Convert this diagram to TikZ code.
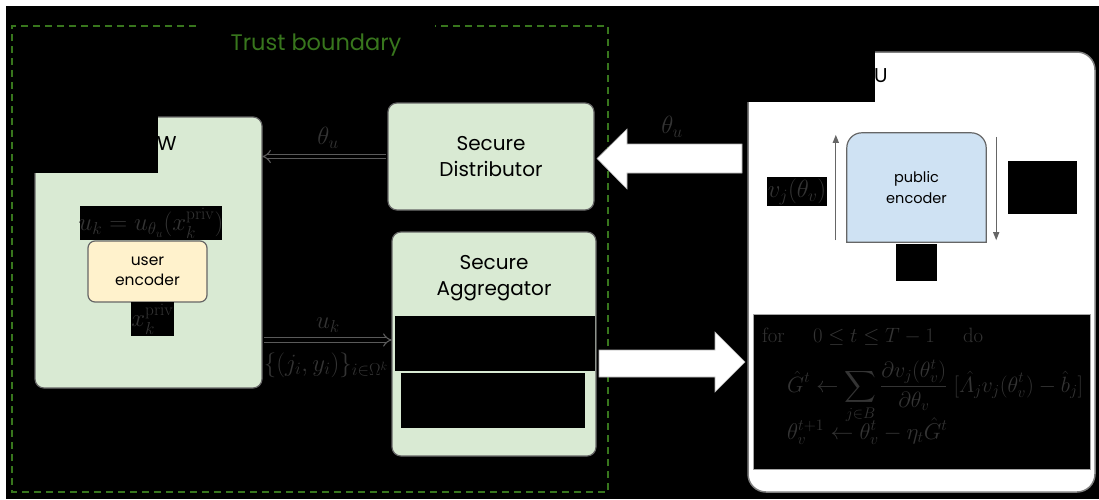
\documentclass[tikz,border=0pt]{standalone}
\usepackage{amsmath}
\usepackage[no-math]{fontspec}
\setmainfont{Poppins}
\usetikzlibrary{arrows.meta,calc}

\definecolor{boxgreen}{HTML}{D9EAD3}
\definecolor{boxyellow}{HTML}{FFF2CC}
\definecolor{boxblue}{HTML}{CFE2F3}
\definecolor{edgegray}{HTML}{666666}
\definecolor{trustgreen}{HTML}{38761D}
\definecolor{mathgray}{RGB}{52,52,52}
\definecolor{arrowgray}{HTML}{5A5A5A}

\begin{document}
\begin{tikzpicture}[x=1pt,y=-1pt,
  panel/.style={draw=edgegray, line width=1.2pt, rounded corners=9pt, inner sep=0pt, outer sep=0pt},
  cover/.style={fill=black, inner sep=0pt, outer sep=0pt},
  mlabel/.style={text=mathgray, inner sep=0pt, font=\fontsize{23}{26}\selectfont},
  boxtext/.style={align=center, font=\fontsize{20}{26}\selectfont, text=black},
  dblarrow/.style={draw=arrowgray, double=black, double distance=3.5pt, line width=1.1pt, -{Implies[length=6pt,width=12pt]}},
  thinarrow/.style={draw=edgegray, line width=1.3pt, -{Triangle[length=8pt,width=6pt]}},
  bigarrow/.style={fill=white, draw=gray!60, line width=0.6pt},
  boundary/.style={draw=trustgreen, line width=1.4pt, dash pattern=on 7pt off 5pt}
]
\useasboundingbox (0,0) rectangle (1099,499);
% page and dark canvas
\fill[white] (0,0) rectangle (1099,499);
\fill[black] (6,6) rectangle (1099,499);

% trust boundary frame with a gap for its title
\draw[boundary] (196,26) -- (12,26) -- (12,492) -- (608,492) -- (608,26) -- (435,26);
\node[anchor=base, text=trustgreen, font=\fontsize{22.5}{26}\selectfont] (trust) at (316,50) {Trust boundary};

% device W
\node[panel, fill=boxgreen, minimum width=227pt, minimum height=271pt] (wbox) at (148.5,252.5) {};
\node[cover, minimum width=128pt, minimum height=63pt] (wcover) at (94,141.5) {};
\node[anchor=base west, inner sep=0pt, font=\fontsize{20}{24}\selectfont] (wlabel) at (157,150) {W};
\node[cover, minimum width=142pt, minimum height=34pt] (ueq) at (151,223) {};
\node[mlabel] (ueqtext) at (ueq) {$u_k = u_{\theta_u}(x_k^{\mathrm{priv}})$};
\node[panel, fill=boxyellow, rounded corners=7pt, minimum width=119pt, minimum height=61pt, boxtext, font=\fontsize{15.5}{20}\selectfont] (uenc) at (147.5,271.5) {user\\encoder};
\node[cover, minimum width=43pt, minimum height=34pt] (xpriv) at (152.5,319) {};
\node[mlabel] (xprivtext) at (xpriv) {$x_k^{\mathrm{priv}}$};

% secure distributor and aggregator
\node[panel, fill=boxgreen, minimum width=206pt, minimum height=107pt, boxtext] (dist) at (491,156.5) {Secure\\Distributor};
\node[panel, fill=boxgreen, minimum width=204pt, minimum height=224pt] (agg) at (494,344) {};
\node[boxtext] (aggtext) at (494,278) {Secure\\Aggregator};
\node[cover, minimum width=200pt, minimum height=55pt] (aggcova) at (495,343.5) {};
\node[cover, minimum width=184pt, minimum height=55pt] (aggcovb) at (493,400.5) {};

% server U
\node[panel, fill=white, draw=gray, rounded corners=18pt, line width=1.5pt, minimum width=347pt, minimum height=440pt] (ubox) at (921.5,272) {};
\node[cover, minimum width=130pt, minimum height=57pt] (ucover) at (810,73.5) {};
\node[anchor=base west, inner sep=0pt, font=\fontsize{20}{24}\selectfont] (ulabel) at (874,82) {U};

% public encoder, rounded on top only
\node[inner sep=0pt, minimum width=139pt, minimum height=109pt] (penc) at (916.5,187.5) {};
\draw[fill=boxblue, draw=edgegray, line width=1.2pt]
  (penc.south west) [rounded corners=15pt] -- (penc.north west) -- (penc.north east) [sharp corners] -- (penc.south east) -- cycle;
\node[boxtext, font=\fontsize{14.5}{21}\selectfont] (penctext) at (penc) {public\\encoder};

\coordinate (upfrom) at ($(penc.south west)+(-11,-2)$);
\coordinate (upto) at ($(penc.north west)+(-11,2)$);
\coordinate (downfrom) at ($(penc.north east)+(10,4)$);
\coordinate (downto) at ($(penc.south east)+(10,-2)$);
\draw[thinarrow] (upfrom) -- (upto);
\draw[thinarrow] (downfrom) -- (downto);

\node[cover, minimum width=60pt, minimum height=29pt] (vlabel) at (797,191.5) {};
\node[mlabel] (vlabeltext) at (vlabel) {$v_j(\theta_v)$};
\node[cover, minimum width=69pt, minimum height=53pt] (rcover) at (1042.5,187.5) {};
\node[cover, minimum width=41pt, minimum height=37pt] (bcover) at (916.5,262.5) {};

% training loop
\node[fill=black, draw=gray!70, line width=1pt, inner sep=0pt, minimum width=337pt, minimum height=155pt] (algo) at (921.5,391.5) {};
\begin{scope}[every node/.style={text=mathgray, inner sep=0pt, font=\fontsize{22.5}{26}\selectfont}]
\node[anchor=base west] (algoa) at (762,342) {$\mathrm{for}\quad\; 0\le t\le T-1\quad\; \mathrm{do}$};
\node[anchor=base west] (algob) at (787,392) {\scalebox{1.065}{$\displaystyle \hat{G}^t \leftarrow \sum_{j\in B}\frac{\partial v_j(\theta_v^t)}{\partial\theta_v}\;[\hat{\varLambda}_j v_j(\theta_v^t)-\hat{b}_j]$}};
\node[anchor=base west] (algoc) at (787,439) {\scalebox{1.1}{$\theta_v^{t+1}\leftarrow\theta_v^t-\eta_t\hat{G}^t$}};
\end{scope}

% model and update flows
\coordinate (distw) at ($(dist.west)+(-2,0)$);
\draw[dblarrow] (distw) -- (distw -| wbox.east);
\node[mlabel] (thetaa) at (328,138) {$\theta_u$};
\coordinate (wout) at (wbox.east |- 0,340);
\draw[dblarrow] ($(wout)+(2,0)$) -- (agg.west |- wout);
\node[mlabel] (uk) at (328,325) {$u_k$};
\node[mlabel] (pairs) at (326,365) {$\{(j_i,y_i)\}_{i\in\Omega^k}$};

\draw[bigarrow] (742,144) -- (627,144) -- (627,129) -- (597,158.5) -- (627,189) -- (627,173) -- (742,173) -- cycle;
\node[mlabel] (thetab) at (672,127) {$\theta_u$};
\draw[bigarrow] (599,350) -- (715,350) -- (715,332) -- (745,362) -- (715,392) -- (715,377) -- (599,377) -- cycle;
\end{tikzpicture}
\end{document}
